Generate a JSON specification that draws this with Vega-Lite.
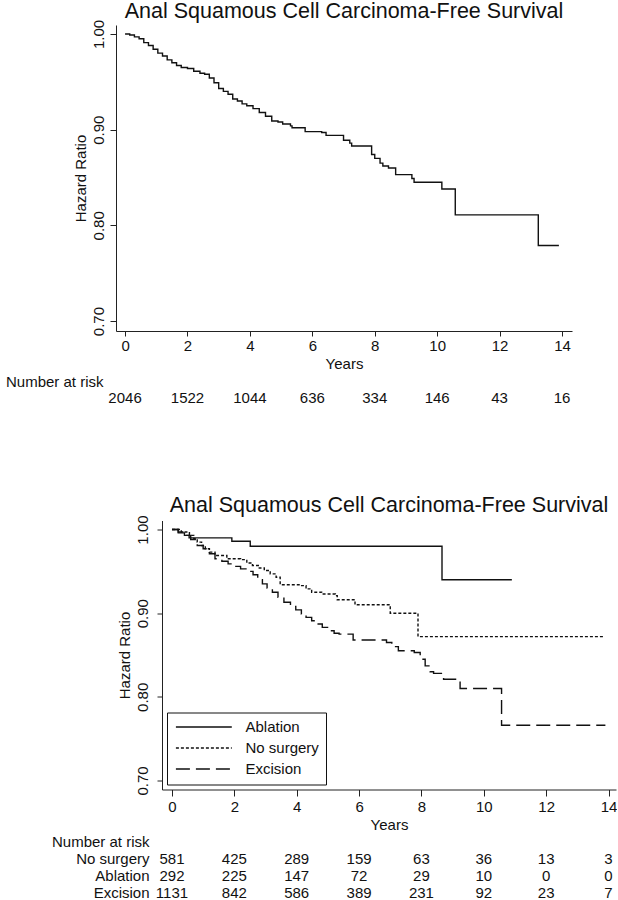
{
  "$schema": "https://vega.github.io/schema/vega-lite/v6.json",
  "background": "white",
  "padding": {"left": 5, "top": 1, "right": 0, "bottom": 0},
  "config": {
    "font": "Liberation Sans",
    "view": {"stroke": null},
    "axis": {
      "grid": false,
      "domainColor": "#222",
      "tickColor": "#222",
      "labelColor": "#111",
      "titleColor": "#111",
      "labelFontSize": 15,
      "titleFontSize": 15,
      "titleFontWeight": "normal",
      "labelFont": "Liberation Sans",
      "titleFont": "Liberation Sans"
    },
    "title": {"fontSize": 21.5, "fontWeight": "normal", "font": "Liberation Sans", "color": "#111", "anchor": "middle", "frame": "group"},
    "legend": {
      "title": null,
      "orient": "bottom-left",
      "offset": 5,
      "strokeColor": "#111",
      "fillColor": "white",
      "padding": 7,
      "symbolType": "M-1,0H9",
      "symbolSize": 125,
      "symbolStrokeWidth": 1.4,
      "symbolStrokeColor": "#111",
      "symbolFillColor": "transparent",
      "labelFontSize": 15,
      "labelFont": "Liberation Sans",
      "labelColor": "#111",
      "labelOffset": 56.5,
      "rowPadding": 5
    }
  },
  "datasets": {
    "overall": [
      {"year": 0, "survival": 1.0}, {"year": 0.15, "survival": 0.999}, {"year": 0.3, "survival": 0.997},
      {"year": 0.45, "survival": 0.995}, {"year": 0.6, "survival": 0.991}, {"year": 0.75, "survival": 0.988},
      {"year": 0.9, "survival": 0.984}, {"year": 1.05, "survival": 0.98}, {"year": 1.2, "survival": 0.977},
      {"year": 1.35, "survival": 0.973}, {"year": 1.5, "survival": 0.97}, {"year": 1.65, "survival": 0.967},
      {"year": 1.8, "survival": 0.965}, {"year": 2.0, "survival": 0.964}, {"year": 2.2, "survival": 0.961},
      {"year": 2.4, "survival": 0.959}, {"year": 2.55, "survival": 0.958}, {"year": 2.7, "survival": 0.954},
      {"year": 2.85, "survival": 0.949}, {"year": 3.0, "survival": 0.943}, {"year": 3.15, "survival": 0.94},
      {"year": 3.3, "survival": 0.937}, {"year": 3.45, "survival": 0.932}, {"year": 3.6, "survival": 0.93},
      {"year": 3.75, "survival": 0.927}, {"year": 3.9, "survival": 0.925}, {"year": 4.1, "survival": 0.922},
      {"year": 4.3, "survival": 0.918}, {"year": 4.5, "survival": 0.914}, {"year": 4.7, "survival": 0.909},
      {"year": 4.9, "survival": 0.908}, {"year": 5.05, "survival": 0.906}, {"year": 5.3, "survival": 0.904},
      {"year": 5.35, "survival": 0.902}, {"year": 5.77, "survival": 0.898}, {"year": 6.3, "survival": 0.897},
      {"year": 6.44, "survival": 0.894}, {"year": 7.0, "survival": 0.889}, {"year": 7.2, "survival": 0.886},
      {"year": 7.26, "survival": 0.883}, {"year": 7.9, "survival": 0.874}, {"year": 8.0, "survival": 0.87},
      {"year": 8.17, "survival": 0.865}, {"year": 8.26, "survival": 0.862}, {"year": 8.44, "survival": 0.86},
      {"year": 8.67, "survival": 0.853}, {"year": 9.19, "survival": 0.849}, {"year": 9.26, "survival": 0.845},
      {"year": 10.15, "survival": 0.838}, {"year": 10.58, "survival": 0.811}, {"year": 13.24, "survival": 0.779},
      {"year": 13.9, "survival": 0.779}
    ],
    "overallRisk": [
      {"year": 0, "row": "All", "n": 2046}, {"year": 2, "row": "All", "n": 1522},
      {"year": 4, "row": "All", "n": 1044}, {"year": 6, "row": "All", "n": 636},
      {"year": 8, "row": "All", "n": 334}, {"year": 10, "row": "All", "n": 146},
      {"year": 12, "row": "All", "n": 43}, {"year": 14, "row": "All", "n": 16}
    ],
    "bygroup": [
      {"group": "Ablation", "year": 0, "survival": 1.0}, {"group": "Ablation", "year": 0.2, "survival": 0.996},
      {"group": "Ablation", "year": 0.4, "survival": 0.993}, {"group": "Ablation", "year": 0.55, "survival": 0.99},
      {"group": "Ablation", "year": 1.92, "survival": 0.986}, {"group": "Ablation", "year": 2.51, "survival": 0.98},
      {"group": "Ablation", "year": 8.66, "survival": 0.94}, {"group": "Ablation", "year": 10.9, "survival": 0.94},

      {"group": "No surgery", "year": 0, "survival": 1.0}, {"group": "No surgery", "year": 0.3, "survival": 0.997},
      {"group": "No surgery", "year": 0.56, "survival": 0.993}, {"group": "No surgery", "year": 0.7, "survival": 0.989},
      {"group": "No surgery", "year": 0.81, "survival": 0.985}, {"group": "No surgery", "year": 0.95, "survival": 0.981},
      {"group": "No surgery", "year": 1.07, "survival": 0.977}, {"group": "No surgery", "year": 1.2, "survival": 0.973},
      {"group": "No surgery", "year": 1.38, "survival": 0.969}, {"group": "No surgery", "year": 1.76, "survival": 0.965},
      {"group": "No surgery", "year": 2.2, "survival": 0.964}, {"group": "No surgery", "year": 2.4, "survival": 0.96},
      {"group": "No surgery", "year": 2.58, "survival": 0.957}, {"group": "No surgery", "year": 2.8, "survival": 0.954},
      {"group": "No surgery", "year": 2.96, "survival": 0.951}, {"group": "No surgery", "year": 3.15, "survival": 0.947},
      {"group": "No surgery", "year": 3.34, "survival": 0.943}, {"group": "No surgery", "year": 3.47, "survival": 0.934},
      {"group": "No surgery", "year": 4.1, "survival": 0.933}, {"group": "No surgery", "year": 4.3, "survival": 0.929},
      {"group": "No surgery", "year": 4.48, "survival": 0.925}, {"group": "No surgery", "year": 4.8, "survival": 0.923},
      {"group": "No surgery", "year": 5.24, "survival": 0.921}, {"group": "No surgery", "year": 5.3, "survival": 0.916},
      {"group": "No surgery", "year": 5.87, "survival": 0.91}, {"group": "No surgery", "year": 7.0, "survival": 0.9},
      {"group": "No surgery", "year": 7.89, "survival": 0.872}, {"group": "No surgery", "year": 13.83, "survival": 0.872},

      {"group": "Excision", "year": 0, "survival": 1.0}, {"group": "Excision", "year": 0.2, "survival": 0.997},
      {"group": "Excision", "year": 0.44, "survival": 0.993}, {"group": "Excision", "year": 0.6, "survival": 0.988},
      {"group": "Excision", "year": 0.81, "survival": 0.981}, {"group": "Excision", "year": 1.0, "survival": 0.977},
      {"group": "Excision", "year": 1.2, "survival": 0.971}, {"group": "Excision", "year": 1.38, "survival": 0.965},
      {"group": "Excision", "year": 1.6, "survival": 0.962}, {"group": "Excision", "year": 1.8, "survival": 0.959},
      {"group": "Excision", "year": 2.0, "survival": 0.956}, {"group": "Excision", "year": 2.2, "survival": 0.953},
      {"group": "Excision", "year": 2.4, "survival": 0.95}, {"group": "Excision", "year": 2.6, "survival": 0.946},
      {"group": "Excision", "year": 2.75, "survival": 0.94}, {"group": "Excision", "year": 2.9, "survival": 0.935},
      {"group": "Excision", "year": 3.05, "survival": 0.93}, {"group": "Excision", "year": 3.22, "survival": 0.925},
      {"group": "Excision", "year": 3.4, "survival": 0.919}, {"group": "Excision", "year": 3.59, "survival": 0.913},
      {"group": "Excision", "year": 3.8, "survival": 0.908}, {"group": "Excision", "year": 3.97, "survival": 0.904},
      {"group": "Excision", "year": 4.15, "survival": 0.899}, {"group": "Excision", "year": 4.3, "survival": 0.895},
      {"group": "Excision", "year": 4.48, "survival": 0.891}, {"group": "Excision", "year": 4.65, "survival": 0.887},
      {"group": "Excision", "year": 4.82, "survival": 0.883}, {"group": "Excision", "year": 4.99, "survival": 0.879},
      {"group": "Excision", "year": 5.2, "survival": 0.876}, {"group": "Excision", "year": 5.36, "survival": 0.875},
      {"group": "Excision", "year": 5.81, "survival": 0.868}, {"group": "Excision", "year": 6.88, "survival": 0.865},
      {"group": "Excision", "year": 7.05, "survival": 0.86}, {"group": "Excision", "year": 7.26, "survival": 0.855},
      {"group": "Excision", "year": 7.77, "survival": 0.853}, {"group": "Excision", "year": 7.96, "survival": 0.845},
      {"group": "Excision", "year": 8.12, "survival": 0.837}, {"group": "Excision", "year": 8.28, "survival": 0.83},
      {"group": "Excision", "year": 8.39, "survival": 0.828}, {"group": "Excision", "year": 8.71, "survival": 0.821},
      {"group": "Excision", "year": 9.24, "survival": 0.81}, {"group": "Excision", "year": 10.57, "survival": 0.766},
      {"group": "Excision", "year": 13.9, "survival": 0.766}
    ],
    "groupRisk": [
      {"row": "No surgery", "year": 0, "n": 581}, {"row": "No surgery", "year": 2, "n": 425},
      {"row": "No surgery", "year": 4, "n": 289}, {"row": "No surgery", "year": 6, "n": 159},
      {"row": "No surgery", "year": 8, "n": 63}, {"row": "No surgery", "year": 10, "n": 36},
      {"row": "No surgery", "year": 12, "n": 13}, {"row": "No surgery", "year": 14, "n": 3},
      {"row": "Ablation", "year": 0, "n": 292}, {"row": "Ablation", "year": 2, "n": 225},
      {"row": "Ablation", "year": 4, "n": 147}, {"row": "Ablation", "year": 6, "n": 72},
      {"row": "Ablation", "year": 8, "n": 29}, {"row": "Ablation", "year": 10, "n": 10},
      {"row": "Ablation", "year": 12, "n": 0}, {"row": "Ablation", "year": 14, "n": 0},
      {"row": "Excision", "year": 0, "n": 1131}, {"row": "Excision", "year": 2, "n": 842},
      {"row": "Excision", "year": 4, "n": 586}, {"row": "Excision", "year": 6, "n": 389},
      {"row": "Excision", "year": 8, "n": 231}, {"row": "Excision", "year": 10, "n": 92},
      {"row": "Excision", "year": 12, "n": 23}, {"row": "Excision", "year": 14, "n": 7}
    ]
  },
  "spacing": 88.5,
  "align": "none",
  "resolve": {"legend": {"strokeDash": "independent"}},
  "vconcat": [
    {
      "align": "none",
      "spacing": 0,
      "hconcat": [
        {
          "title": {"text": "Anal Squamous Cell Carcinoma-Free Survival", "offset": -3.5},
          "width": 456,
          "height": 306,
          "layer": [
            {
              "data": {"name": "overall"},
              "mark": {"type": "line", "interpolate": "step-after", "color": "#111", "strokeWidth": 1.4},
              "encoding": {
                "x": {
                  "field": "year", "type": "quantitative",
                  "scale": {"domain": [-0.29, 14.32], "nice": false, "zero": false},
                  "axis": {
                    "title": "Years",
                    "values": [0, 1, 2, 3, 4, 5, 6, 7, 8, 9, 10, 11, 12, 13, 14],
                    "labelExpr": "datum.value % 2 === 0 ? datum.label : ''",
                    "tickSize": {"condition": {"test": "datum.value % 2 === 0", "value": 5}, "value": 3},
                    "labelPadding": 2.5,
                    "titlePadding": 3,
                    "labelFlush": false,
                    "labelOverlap": false
                  }
                },
                "y": {
                  "field": "survival", "type": "quantitative",
                  "scale": {"domain": [0.6896, 1.0094], "nice": false, "zero": false},
                  "axis": {
                    "title": "Hazard Ratio",
                    "values": [0.7, 0.8, 0.9, 1.0],
                    "format": ".2f",
                    "labelAngle": -90,
                    "labelAlign": "center",
                    "labelBaseline": "alphabetic",
                    "tickSize": 6,
                    "labelPadding": 7,
                    "titlePadding": 3
                  }
                }
              }
            },
            {
              "data": {"name": "overallRisk"},
              "mark": {"type": "text", "fontSize": 15, "align": "center", "baseline": "middle", "color": "#111"},
              "encoding": {
                "x": {"field": "year", "type": "quantitative", "scale": {"domain": [-0.29, 14.32], "nice": false, "zero": false}},
                "y": {
                  "field": "row", "type": "ordinal",
                  "scale": {"type": "point", "domain": ["Number at risk", "All"], "range": [356, 373], "padding": 0},
                  "axis": {"orient": "left", "title": null, "domain": false, "ticks": false, "labelPadding": 13, "labelExpr": "datum.value === 'All' ? '' : datum.label"}
                },
                "text": {"field": "n", "type": "nominal"}
              }
            }
          ],
          "resolve": {"scale": {"y": "independent"}}
        }
      ]
    },
    {
      "spacing": 0,
      "align": "none",
      "bounds": "flush",
      "resolve": {"legend": {"strokeDash": "independent"}},
      "hconcat": [
        {
          "width": 46,
          "height": 10,
          "data": {"values": []},
          "mark": {"type": "point", "opacity": 0},
          "encoding": {}
        },
        {
          "title": {"text": "Anal Squamous Cell Carcinoma-Free Survival", "offset": -1.5},
          "width": 454,
          "height": 269,
          "layer": [
            {
              "data": {"name": "bygroup"},
              "mark": {"type": "line", "interpolate": "step-after", "color": "#111", "strokeWidth": 1.4},
              "encoding": {
                "x": {
                  "field": "year", "type": "quantitative",
                  "scale": {"domain": [-0.32, 14.24], "nice": false, "zero": false},
                  "axis": {
                    "title": "Years",
                    "values": [0, 1, 2, 3, 4, 5, 6, 7, 8, 9, 10, 11, 12, 13, 14],
                    "labelExpr": "datum.value % 2 === 0 ? datum.label : ''",
                    "tickSize": {"condition": {"test": "datum.value % 2 === 0", "value": 6.5}, "value": 3.5},
                    "labelPadding": 3.5,
                    "titlePadding": 3,
                    "labelFlush": false,
                    "labelOverlap": false
                  }
                },
                "y": {
                  "field": "survival", "type": "quantitative",
                  "scale": {"domain": [0.6892, 1.0108], "nice": false, "zero": false},
                  "axis": {
                    "title": "Hazard Ratio",
                    "values": [0.7, 0.8, 0.9, 1.0],
                    "format": ".2f",
                    "labelAngle": -90,
                    "labelAlign": "center",
                    "labelBaseline": "alphabetic",
                    "tickSize": 5,
                    "labelPadding": 10,
                    "titlePadding": 3
                  }
                },
                "strokeDash": {
                  "field": "group", "type": "nominal",
                  "scale": {"domain": ["Ablation", "No surgery", "Excision"], "range": [[1, 0], [3, 2], [14, 6]]},
                  "legend": {"title": null}
                }
              }
            },
            {
              "data": {"name": "groupRisk"},
              "mark": {"type": "text", "fontSize": 15, "align": "center", "baseline": "middle", "color": "#111"},
              "encoding": {
                "x": {"field": "year", "type": "quantitative", "scale": {"domain": [-0.32, 14.24], "nice": false, "zero": false}},
                "y": {
                  "field": "row", "type": "ordinal",
                  "scale": {"type": "point", "domain": ["Number at risk", "No surgery", "Ablation", "Excision"], "range": [321, 372], "padding": 0},
                  "axis": {"orient": "left", "title": null, "domain": false, "ticks": false, "labelPadding": 13}
                },
                "text": {"field": "n", "type": "nominal"}
              }
            }
          ],
          "resolve": {"scale": {"y": "independent"}}
        }
      ]
    }
  ]
}
